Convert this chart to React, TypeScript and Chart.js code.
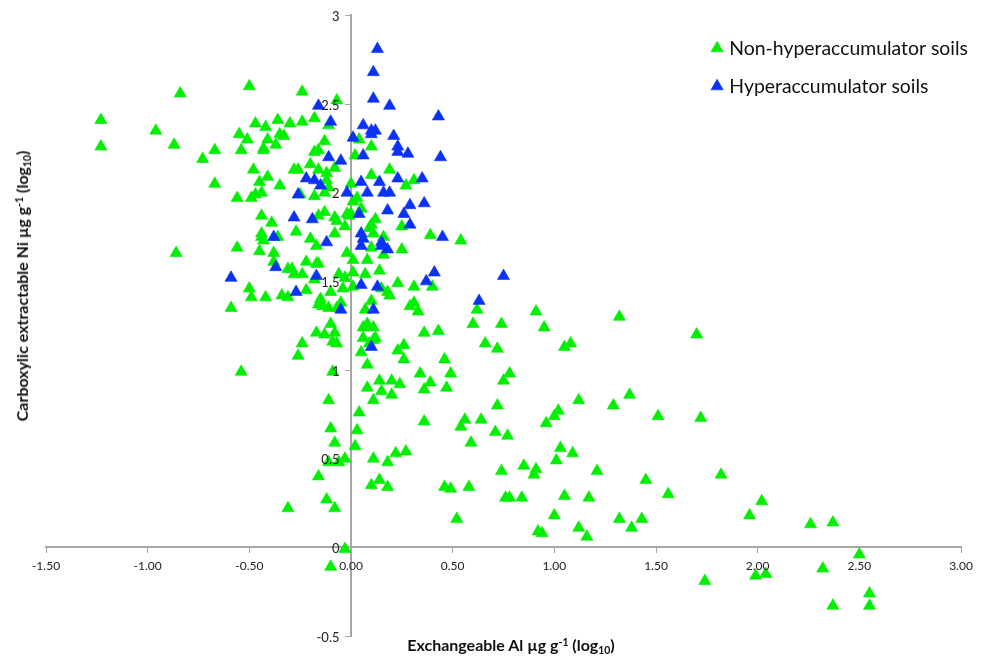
import React, { useEffect, useRef } from "react";
import { Chart, registerables } from "chart.js";

Chart.register(...registerables);

const nonHyperLabel = "Non-hyperaccumulator soils";
const hyperLabel = "Hyperaccumulator soils";

const nonHyperPoints: [number, number][] = [
  [-1.23,2.41],[-1.23,2.26],[-0.96,2.35],[-0.84,2.56],[-0.87,2.27],[-0.73,2.19],[-0.67,2.24],[-0.67,2.05],[-0.86,1.66],[-0.56,1.69],
  [-0.50,2.60],[-0.24,2.57],[-0.07,2.52],[-0.47,2.39],[-0.36,2.41],[-0.42,2.37],[-0.30,2.39],[-0.24,2.40],[-0.18,2.42],[-0.11,2.38],
  [-0.55,2.33],[-0.51,2.30],[-0.54,2.24],[-0.41,2.30],[-0.35,2.33],[-0.33,2.32],[-0.37,2.27],[-0.43,2.25],[-0.43,2.24],[-0.13,2.29],
  [-0.18,2.23],[-0.16,2.24],[-0.48,2.13],[-0.41,2.09],[-0.45,2.06],[-0.35,2.04],[-0.28,2.13],[-0.26,2.13],[-0.20,2.16],[-0.16,2.13],
  [-0.08,2.14],[-0.12,2.11],[-0.12,2.07],[-0.11,2.03],[-0.13,2.00],[-0.18,1.98],[-0.25,1.99],[-0.44,2.00],[-0.47,1.99],[-0.49,1.97],
  [-0.56,1.97],[-0.44,1.87],[-0.39,1.83],[-0.44,1.77],[-0.44,1.75],[-0.43,1.73],[-0.36,1.75],[-0.27,1.78],[-0.20,1.74],[-0.17,1.70],
  [-0.16,1.87],[-0.13,1.89],[-0.08,1.86],[-0.07,1.84],[-0.03,1.81],[-0.08,1.77],[-0.02,1.88],[-0.01,1.87],[0.01,1.95],[-0.02,1.66],
  [0.01,1.62],[-0.45,1.67],[-0.38,1.66],[-0.38,1.61],[-0.31,1.57],[-0.29,1.57],[-0.22,1.61],[-0.17,1.60],[-0.16,1.60],
  [0.04,2.30],[0.10,2.26],[0.02,2.21],[0.10,2.10],[0.19,2.13],[0.27,2.04],[0.31,2.07],[0.00,2.05],[0.03,1.97],[0.05,1.91],[0.00,1.88],
  [0.12,1.85],[0.10,1.82],[0.09,1.80],[0.11,1.77],[0.25,1.81],[0.16,1.75],[0.39,1.76],[0.54,1.73],[0.10,1.69],[0.25,1.68],[0.16,1.65],
  [0.08,1.62],[-0.28,1.54],[-0.24,1.54],[-0.18,1.51],[-0.06,1.54],[-0.03,1.52],[0.01,1.55],[0.07,1.54],[0.14,1.56],[0.23,1.49],[0.31,1.47],
  [0.40,1.47],[-0.04,1.46],[0.01,1.47],[-0.10,1.44],[-0.22,1.45],[-0.50,1.46],[-0.49,1.41],[-0.42,1.41],[-0.34,1.42],[-0.31,1.41],[-0.59,1.35],
  [-0.15,1.40],[-0.16,1.37],[-0.14,1.36],[-0.11,1.35],[-0.07,1.35],[-0.05,1.38],[0.10,1.39],[0.07,1.34],[0.15,1.46],[0.18,1.44],[0.19,1.42],
  [0.31,1.38],[0.29,1.36],[0.33,1.33],[0.62,1.34],[0.60,1.26],[0.43,1.22],[0.36,1.21],[-0.10,1.26],[-0.08,1.21],[-0.17,1.21],[-0.13,1.20],
  [-0.09,1.16],[-0.07,1.15],[0.08,1.26],[0.11,1.24],[0.06,1.24],[0.12,1.18],[0.11,1.17],[0.06,1.18],[0.09,1.15],[0.05,1.10],[-0.24,1.15],
  [-0.26,1.08],[0.23,1.11],[0.26,1.14],[0.26,1.06],[0.46,1.06],[0.66,1.15],[0.72,1.12],[0.08,1.03],[-0.54,0.99],[-0.09,0.99],[0.34,0.98],
  [0.49,0.98],[0.78,0.98],[0.75,0.94],[0.39,0.93],[0.24,0.92],[0.20,0.94],[0.14,0.94],[0.08,0.90],[0.15,0.88],[0.20,0.86],[0.11,0.83],
  [0.36,0.89],[0.47,0.90],[-0.11,0.83],[0.72,0.80],[0.04,0.76],[0.36,0.71],[0.56,0.72],[0.54,0.68],[0.64,0.72],[0.03,0.66],[-0.10,0.67],
  [0.71,0.65],[0.77,0.63],[-0.08,0.59],[0.02,0.57],[0.59,0.59],[0.27,0.54],[0.22,0.53],[0.11,0.50],[0.18,0.48],[-0.03,0.50],[-0.11,0.48],
  [-0.06,0.48],[-0.16,0.40],[0.14,0.38],[0.10,0.35],[0.18,0.34],[-0.12,0.27],[-0.08,0.22],[-0.31,0.22],[0.46,0.34],[0.49,0.33],[0.58,0.34],
  [0.74,0.43],[0.85,0.46],[0.90,0.41],[0.91,0.44],[0.76,0.28],[0.78,0.28],[0.84,0.28],[0.52,0.16],[0.92,0.09],[0.94,0.08],[-0.03,-0.01],
  [-0.10,-0.11],[0.74,1.26],[0.91,1.33],[0.95,1.24],[1.32,1.30],[1.70,1.20],[1.08,1.15],[1.05,1.13],[1.12,0.83],[1.29,0.80],[1.37,0.86],
  [1.51,0.74],[1.72,0.73],[1.02,0.77],[1.00,0.74],[0.96,0.70],[1.03,0.56],[1.09,0.53],[1.01,0.49],[1.21,0.43],[1.45,0.38],[1.82,0.41],
  [1.05,0.29],[1.17,0.28],[1.56,0.30],[1.00,0.18],[1.32,0.16],[1.43,0.16],[1.38,0.11],[1.12,0.11],[1.16,0.06],[1.96,0.18],[2.02,0.26],
  [2.26,0.13],[2.37,0.14],[2.50,-0.04],[2.32,-0.12],[1.74,-0.19],[1.99,-0.16],[2.04,-0.15],[2.55,-0.26],[2.55,-0.33],[2.37,-0.33],
];

const hyperPoints: [number, number][] = [
  [0.13,2.81],[0.11,2.68],[0.11,2.53],[0.19,2.49],[0.43,2.43],[0.06,2.38],[0.10,2.35],[0.12,2.35],[0.10,2.33],[0.01,2.31],
  [0.21,2.32],[0.23,2.26],[0.23,2.23],[0.28,2.22],[0.44,2.20],[0.06,2.21],[-0.11,2.20],[-0.05,2.18],[-0.16,2.49],[-0.10,2.40],
  [-0.22,2.08],[-0.18,2.07],[-0.15,2.04],[-0.26,1.99],[-0.02,2.00],[-0.28,1.86],[-0.19,1.85],[-0.12,1.72],[-0.38,1.75],[-0.37,1.58],
  [0.05,2.06],[0.14,2.06],[0.23,2.08],[0.35,2.08],[0.08,2.00],[0.16,2.00],[0.19,2.00],[0.29,1.93],[0.36,1.94],[0.18,1.90],
  [0.04,1.88],[0.26,1.88],[0.29,1.82],[0.05,1.77],[0.06,1.74],[0.05,1.70],[0.45,1.75],[0.15,1.72],[0.15,1.70],[0.18,1.68],
  [0.41,1.55],[0.37,1.50],[-0.59,1.52],[-0.17,1.53],[0.05,1.48],[0.13,1.47],[-0.27,1.44],[0.63,1.39],[0.75,1.53],[-0.05,1.34],
  [0.11,1.34],[0.10,1.13],
];

const xRange = [-1.5, 3];
const yRange = [-0.5, 3];
const tickStep = 0.5;

const FONT = "Lato, Carlito, Calibri, sans-serif";
const GREEN = "#00F000";
const BLUE = "#0A32F5";
const AXIS = "#A6A6A6";

const legendPlacer = {
  id: "legendPlacer",
  afterLayout(chart: any) {
    const l = chart.legend;
    if (!l) return;
    l.left = 696;
    l.right = 988;
    l.top = 20;
    l.bottom = 300;
  },
};

const yLabelShifter = {
  id: "yLabelShifter",
  beforeDraw(chart: any) {
    const items = chart.scales.y.getLabelItems(chart.chartArea);
    for (const item of items) {
      if (item.shifted) continue;
      item.options.translation = [item.options.translation[0] - 11.5, item.options.translation[1] + 1.5];
      item.shifted = true;
    }
  },
};

const zeroFit = (s: any) => {
  s.paddingTop = s.paddingBottom = s.paddingLeft = s.paddingRight = 0;
  if (s.axis === "x") s.height = 0;
  else s.width = 0;
};

export default function App() {
  const ref = useRef<HTMLCanvasElement>(null);
  useEffect(() => {
    const chart = new Chart(ref.current!, {
      type: "scatter",
      data: {
        datasets: [
          {
            label: nonHyperLabel,
            data: nonHyperPoints.map(([x, y]) => ({ x, y })),
            backgroundColor: GREEN,
            borderColor: GREEN,
            order: 1,
          },
          {
            label: hyperLabel,
            data: hyperPoints.map(([x, y]) => ({ x, y })),
            backgroundColor: BLUE,
            borderColor: BLUE,
            order: 0,
          },
        ],
      },
      options: {
        responsive: false,
        animation: false,
        devicePixelRatio: 1,
        layout: { padding: { left: 46, right: 27, top: 15.4, bottom: 21 } },
        elements: { point: { pointStyle: "triangle", radius: 7, borderWidth: 0.6, hoverRadius: 7 } },
        plugins: {
          tooltip: { enabled: false },
          title: { display: false },
          legend: {
            display: true,
            position: "chartArea",
            align: "start",
            labels: {
              sort: (a: any, b: any) => a.datasetIndex - b.datasetIndex,
              usePointStyle: true,
              boxWidth: 5,
              boxHeight: 10,
              padding: 18.6,
              color: "#111",
              font: { family: FONT, size: 19.4 },
            },
          },
        },
        scales: {
          x: {
            type: "linear",
            min: xRange[0],
            max: xRange[1],
            position: { y: 0 },
            afterFit: zeroFit,
            border: { color: AXIS, width: 2 },
            grid: { drawOnChartArea: false, drawTicks: true, tickLength: 5, color: AXIS, tickColor: AXIS, tickWidth: 1 },
            ticks: {
              stepSize: tickStep,
              maxRotation: 0,
              autoSkip: false,
              color: "#222",
              padding: 7,
              z: 1,
              font: { family: FONT, size: 12 },
              callback: (v: any) => Number(v).toFixed(2),
            },
          },
          y: {
            type: "linear",
            min: yRange[0],
            max: yRange[1],
            position: { x: 0 },
            afterFit: zeroFit,
            border: { color: AXIS, width: 2 },
            grid: { drawOnChartArea: false, drawTicks: true, tickLength: 5, color: AXIS, tickColor: AXIS, tickWidth: 1 },
            ticks: {
              stepSize: tickStep,
              autoSkip: false,
              color: "#222",
              z: 1,
              font: { family: FONT, size: 13 },
              callback: (v: any) => String(v),
            },
          },
        },
      },
      plugins: [legendPlacer, yLabelShifter],
    } as any);
    return () => chart.destroy();
  }, []);

  const titleStyle: React.CSSProperties = {
    position: "absolute",
    fontFamily: FONT,
    fontWeight: 700,
    fontSize: 16,
    color: "#111",
    whiteSpace: "nowrap",
    lineHeight: "20px",
  };
  const sup: React.CSSProperties = { fontSize: "0.65em", verticalAlign: "0.45em", lineHeight: 0 };
  const sub: React.CSSProperties = { fontSize: "0.65em", verticalAlign: "-0.25em", lineHeight: 0 };

  return (
    <div style={{ position: "absolute", left: 0, top: 0, width: 988, height: 657, overflow: "hidden", background: "#fff" }}>
      <canvas ref={ref} width={988} height={657} style={{ display: "block" }} />
      <div style={{ ...titleStyle, left: 511, top: 645, transform: "translate(-50%,-50%)" }}>
        Exchangeable Al µg g<span style={sup}>-1</span> (log<span style={sub}>10</span>)
      </div>
      <div style={{ ...titleStyle, left: 22, top: 286, transform: "translate(-50%,-50%) rotate(-90deg)" }}>
        Carboxylic extractable Ni µg g<span style={sup}>-1</span> (log<span style={sub}>10</span>)
      </div>
    </div>
  );
}
